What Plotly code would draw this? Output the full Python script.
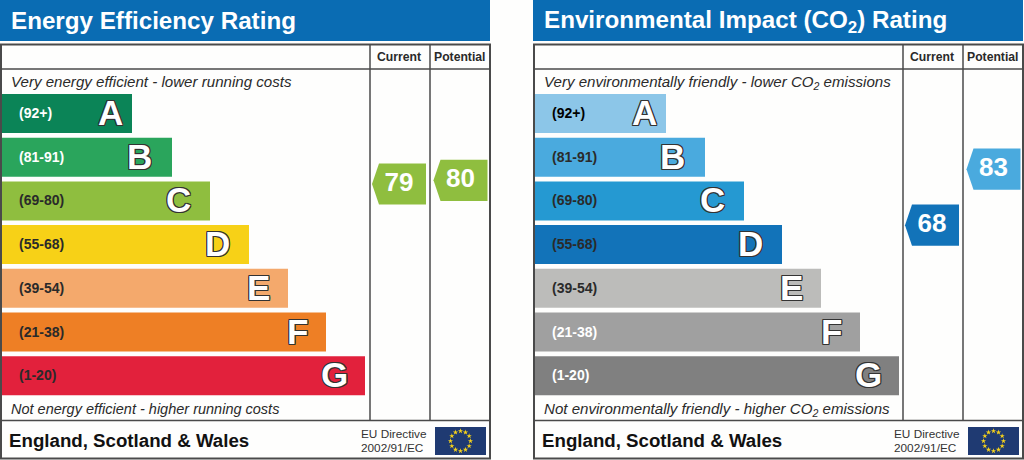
import math

import plotly.graph_objects as go

# rating bands
letters = ["A", "B", "C", "D", "E", "F", "G"]
ranges = ["(92+)", "(81-91)", "(69-80)", "(55-68)", "(39-54)", "(21-38)", "(1-20)"]
energy_lengths = [130, 170, 208, 247, 286, 324, 363]
env_lengths = [131, 170, 209, 247, 286, 325, 364]
energy_colors = ["#0b8457", "#2aa55c", "#8fbe3f", "#f7d117", "#f4a96c", "#ee7f25", "#e2213c"]
env_colors = ["#8cc6e8", "#4aaade", "#2599d2", "#1273b9", "#bcbcba", "#a0a0a0", "#808080"]
energy_text = ["#ffffff", "#ffffff", "#2a2a2a", "#2a2a2a", "#2a2a2a", "#2a2a2a", "#2a2a2a"]
env_text = ["#000000", "#2a2a2a", "#2a2a2a", "#2a2a2a", "#2a2a2a", "#ffffff", "#ffffff"]
letter_offsets = [22, 33, 32, 32, 30, 29, 31]

# ratings
energy_current = 79
energy_potential = 80
env_current = 68
env_potential = 83

BLUE = "#0a6cb3"
LINE = "#4a4a4a"
FONT = "Liberation Sans"
OUTLINE = "1px 0 #333, -1px 0 #333, 0 1px #333, 0 -1px #333, 1px 1px #333, -1px -1px #333, 1px -1px #333, -1px 1px #333"

ROW_TOP = 113.5
ROW_STEP = 43.7

fig = go.Figure()
shapes = []
notes = []


def note(x, y, text, size, color="#2a2a2a", bold=False, italic=False, anchor="left", shadow=None):
    font = dict(family=FONT, size=size, color=color, weight="bold" if bold else "normal",
                style="italic" if italic else "normal")
    if shadow:
        font["shadow"] = shadow
    notes.append(dict(x=x, y=y, xref="x", yref="y", text=text, showarrow=False, xanchor=anchor,
                      yanchor="middle", font=font))


def arrow(x_right, rating, color):
    # pentagon pointing left, placed on the rating axis
    half = 5.5
    xs = [x_right, x_right - 47, x_right - 54, x_right - 47, x_right, x_right]
    ys = [rating + half, rating + half, rating, rating - half, rating - half, rating + half]
    fig.add_trace(go.Scatter(x=xs, y=ys, yaxis="y2", mode="lines", fill="toself", fillcolor=color,
                             line=dict(width=0), hoverinfo="skip", showlegend=False))
    fig.add_trace(go.Scatter(x=[x_right - 27], y=[rating], yaxis="y2", mode="text", text=[str(rating)],
                             textposition="middle center", hoverinfo="skip", showlegend=False,
                             textfont=dict(family=FONT, size=26, color="white", weight="bold")))


def panel(x0, x1, col1, col2, title, title_y, top_text, top_y, bottom_text, bottom_y, bottom_size,
          lengths, colors, text_colors, current, potential):
    shapes.append(dict(type="rect", x0=x0, x1=x1, y0=0, y1=41, fillcolor=BLUE, line_width=0, layer="below"))
    shapes.append(dict(type="rect", x0=x0 + 1, x1=x1, y0=44.5, y1=458.5, line=dict(color=LINE, width=2), layer="above"))
    for y in [69, 420.5]:
        shapes.append(dict(type="line", x0=x0 + 1, x1=x1, y0=y, y1=y, line=dict(color=LINE, width=1.5)))
    for x in [col1, col2]:
        shapes.append(dict(type="line", x0=x, x1=x, y0=44.5, y1=420.5, line=dict(color=LINE, width=1.5)))

    ys = [ROW_TOP + i * ROW_STEP for i in range(len(letters))]
    fig.add_trace(go.Bar(x=lengths, y=ys, base=x0 + 2, width=39, orientation="h",
                         marker=dict(color=colors, line_width=0), hoverinfo="skip", showlegend=False))
    for i, y in enumerate(ys):
        note(x0 + 17, y - 0.5, ranges[i], 14, color=text_colors[i], bold=True)
        note(x0 + 2 + lengths[i] - letter_offsets[i], y - 1, letters[i], 35, color="white", bold=True,
             anchor="center", shadow=OUTLINE)

    note(x0 + 9, title_y, title, 24.2, color="white", bold=True)
    note(x0 + 8.5, top_y, top_text, 15.1, italic=True)
    note(x0 + 8.5, bottom_y, bottom_text, bottom_size, italic=True)
    note((col1 + col2) / 2 - 1, 57, "Current", 12.2, bold=True, anchor="center")
    note((col2 + x1) / 2 - 0.5, 57, "Potential", 12.2, bold=True, anchor="center")
    note(x0 + 6.5, 440, "England, Scotland &amp; Wales", 18.7, color="#111111", bold=True)
    note(col2 - 71, 434, "EU Directive", 11.8, color="#333333")
    note(col2 - 71, 448, "2002/91/EC", 11.8, color="#333333")

    # EU flag
    fx0, fx1 = x1 - 55, x1 - 4
    shapes.append(dict(type="rect", x0=fx0, x1=fx1, y0=427, y1=455, fillcolor="#1f3a72", line_width=0, layer="below"))
    cx, cy = (fx0 + fx1) / 2, 441
    fig.add_trace(go.Scatter(x=[cx + 10 * math.sin(k * math.pi / 6) for k in range(12)],
                             y=[cy - 10 * math.cos(k * math.pi / 6) for k in range(12)],
                             mode="markers", marker=dict(symbol="star", size=4, color="#f6d21a", line_width=0),
                             hoverinfo="skip", showlegend=False))

    for value, right in [(current, col2 - 4), (potential, x1 - 2.5)]:
        arrow(right, value, colors[rating_band(value)])


def rating_band(value):
    limits = [92, 81, 69, 55, 39, 21, 1]
    for i, low in enumerate(limits):
        if value >= low:
            return i
    return len(limits) - 1


panel(0, 490, 370, 430, "Energy Efficiency Rating", 20, "Very energy efficient - lower running costs", 81.5,
      "Not energy efficient - higher running costs", 408.5, 14.5, energy_lengths, energy_colors, energy_text,
      energy_current, energy_potential)
panel(533, 1023, 903, 963, "Environmental Impact (CO<sub>2</sub>) Rating", 21.5,
      "Very environmentally friendly - lower CO<sub>2</sub> emissions", 82.5,
      "Not environmentally friendly - higher CO<sub>2</sub> emissions", 409.5, 15.1, env_lengths, env_colors, env_text,
      env_current, env_potential)

fig.update_layout(
    width=1024, height=460, margin=dict(l=0, r=0, t=0, b=0),
    paper_bgcolor="#fefefd", plot_bgcolor="#fefefd", barmode="overlay", showlegend=False,
    shapes=shapes, annotations=notes,
    xaxis=dict(range=[0, 1024], visible=False, fixedrange=True),
    yaxis=dict(range=[460, 0], visible=False, fixedrange=True),
    yaxis2=dict(range=[5.1, 128.3], overlaying="y", visible=False, fixedrange=True),
)
fig.write_html("out.html", config={"displayModeBar": False},
               post_script="document.body.style.margin = '0';")
